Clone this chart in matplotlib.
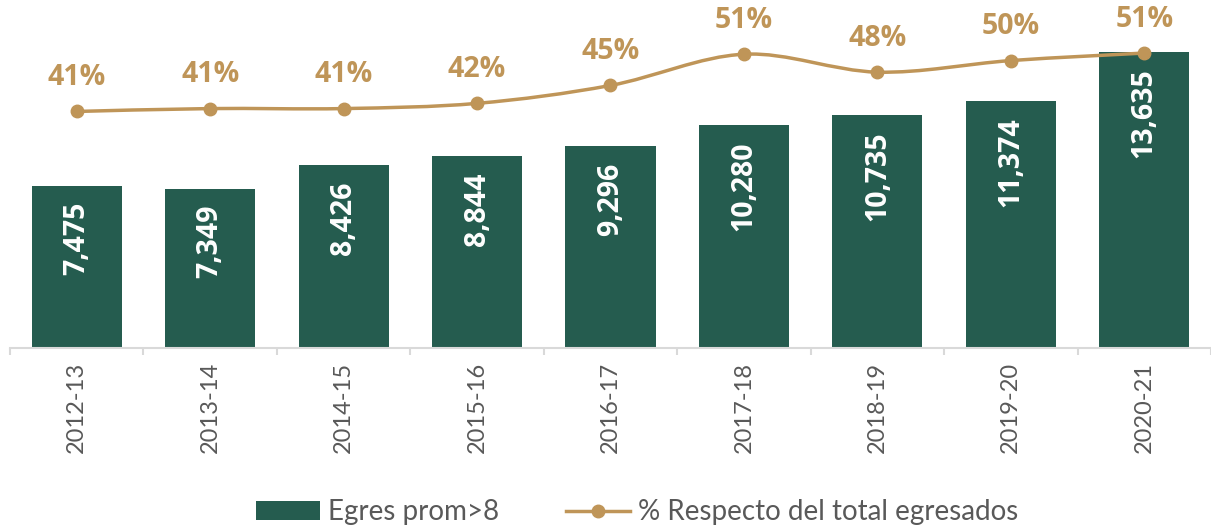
import matplotlib.pyplot as plt
import numpy as np
from matplotlib.path import Path
from matplotlib.patches import PathPatch, Patch
from matplotlib.lines import Line2D

# data
periodos = ['2012-13', '2013-14', '2014-15', '2015-16', '2016-17',
            '2017-18', '2018-19', '2019-20', '2020-21']
egresados = [7475, 7349, 8426, 8844, 9296, 10280, 10735, 11374, 13635]
porcentaje = [40.9, 41.4, 41.4, 42.3, 45.4, 50.8, 47.7, 49.7, 51.0]

VERDE = '#255C4F'
ORO = '#BF9558'
GRIS = '#595959'
BOLD = ['Open Sans', 'DejaVu Sans']

plt.rcParams['font.family'] = ['Lato', 'DejaVu Sans']

fig = plt.figure(figsize=(12.11, 5.29), dpi=100)
ax = fig.add_axes([10 / 1211, 181 / 529, 1201 / 1211, 347 / 529])
x = np.arange(len(periodos))

ax.bar(x, egresados, width=0.675, color=VERDE, zorder=2)
ax.set_xlim(-0.5, len(periodos) - 0.5)
ax.set_ylim(0, 16000)

for xi, v in zip(x, egresados):
    ax.annotate(f'{v:,}', (xi, v), xytext=(0, -11.5), textcoords='offset points',
                rotation=90, ha='center', va='top', color='white',
                fontsize=20.5, fontweight='bold', family=BOLD, zorder=5)

for s in ['top', 'right', 'left']:
    ax.spines[s].set_visible(False)
ax.spines['bottom'].set_color('#D9D9D9')
ax.spines['bottom'].set_linewidth(1.5)
ax.set_yticks([])
ax.set_xticks(x)
ax.set_xticklabels(periodos, rotation=90, color=GRIS, fontsize=17)
ax.tick_params(axis='x', which='major', length=0, pad=10)
ax.set_xticks(np.arange(-0.5, len(periodos)), minor=True)
ax.tick_params(axis='x', which='minor', length=5, width=1.5, color='#D9D9D9')

# secondary axis for the percentage line (smoothed like Excel)
ax2 = ax.twinx()
ax2.set_ylim(0, 60)
ax2.axis('off')

pts = np.column_stack([x, porcentaje]).astype(float)
verts = [tuple(pts[0])]
codes = [Path.MOVETO]
n = len(pts)
for i in range(n - 1):
    p0 = pts[max(i - 1, 0)]
    p1 = pts[i]
    p2 = pts[i + 1]
    p3 = pts[min(i + 2, n - 1)]
    c1 = p1 + (p2 - p0) / 6
    c2 = p2 - (p3 - p1) / 6
    verts += [tuple(c1), tuple(c2), tuple(p2)]
    codes += [Path.CURVE4] * 3
ax2.add_patch(PathPatch(Path(verts, codes), fill=False, edgecolor=ORO,
                        linewidth=2.5, zorder=3))
ax2.plot(x, porcentaje, linestyle='none', marker='o', markersize=9,
         color=ORO, zorder=4)

for xi, p in zip(x, porcentaje):
    ax2.annotate(f'{round(p):d}%', (xi, p), xytext=(0, 14),
                 textcoords='offset points', ha='center', va='bottom',
                 color=ORO, fontsize=20.5, fontweight='bold', family=BOLD)

handles = [Patch(facecolor=VERDE, edgecolor='none'),
           Line2D([0], [0], color=ORO, linewidth=2.5, marker='o', markersize=9)]
fig.legend(handles, ['Egres prom>8', '% Respecto del total egresados'],
           loc='center', bbox_to_anchor=(0.526, 0.032), ncol=2, frameon=False,
           fontsize=20, labelcolor=GRIS, handlelength=2.3, handleheight=0.65,
           handletextpad=0.3, columnspacing=2.4)

fig.savefig('out.png', dpi=100)
